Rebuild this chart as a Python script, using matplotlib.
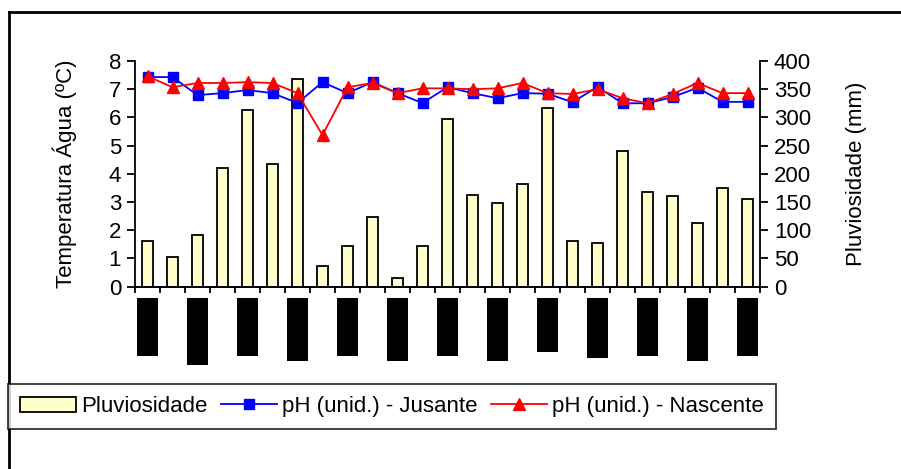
import matplotlib
matplotlib.use("Agg")
import matplotlib.pyplot as plt
import numpy as np
from matplotlib.patches import Rectangle
from matplotlib.lines import Line2D
import matplotlib.transforms as mtransforms

plt.rcParams['font.family'] = ['Liberation Sans', 'DejaVu Sans']

# monthly rainfall (mm) and pH at the two sampling points
pluviosidade = [80, 53, 92, 210, 313, 217, 368, 36, 71, 124, 15, 71, 298,
                163, 149, 181, 316, 81, 78, 241, 167, 160, 113, 174, 156]
ph_jusante = [7.43, 7.43, 6.79, 6.86, 6.97, 6.86, 6.51, 7.25, 6.86, 7.25, 6.86,
              6.51, 7.07, 6.86, 6.68, 6.86, 6.84, 6.54, 7.08, 6.50, 6.50, 6.72,
              7.05, 6.55, 6.55]
ph_nascente = [7.46, 7.07, 7.22, 7.22, 7.25, 7.22, 6.86, 5.37, 7.07, 7.22, 6.86,
               7.03, 7.03, 7.00, 7.03, 7.22, 6.86, 6.83, 7.00, 6.68, 6.50, 6.83,
               7.22, 6.86, 6.86]
# lengths (px) of the hidden, blacked-out date labels under every second month
label_len = [58, 67, 58, 63, 58, 63, 58, 63, 54, 60, 58, 63, 58]

x = np.arange(len(pluviosidade))

fig = plt.figure(figsize=(9.01, 4.69), dpi=100)
ax = fig.add_axes([135 / 901, 1 - 286.5 / 469, 625 / 901, 225.5 / 469])
ax2 = ax.twinx()

ax2.bar(x, pluviosidade, width=0.42, color='#FFFFCC', edgecolor='black',
        linewidth=1.3, label='Pluviosidade')
ax2.set_ylim(0, 400)
ax2.set_yticks(np.arange(0, 401, 50))
ax2.set_ylabel('Pluviosidade (mm)', fontsize=16, labelpad=25)

ax.plot(x, ph_jusante, color='#0000FF', marker='s', markersize=7.5,
        linewidth=1.3, label='pH (unid.) - Jusante')
ax.plot(x, ph_nascente, color='#FF0000', marker='^', markersize=8.5,
        linewidth=1.3, label='pH (unid.) - Nascente')
ax.set_ylim(0, 8)
ax.set_yticks(range(0, 9))
ax.set_ylabel('Temperatura Água (ºC)', fontsize=16, labelpad=23)
ax.set_xlim(-0.5, len(x) - 0.5)
ax.set_xticks(np.arange(-0.5, len(x), 1))
ax.set_xticklabels([])

ax.set_zorder(ax2.get_zorder() + 1)
ax.patch.set_visible(False)

for a in (ax, ax2):
    a.spines['top'].set_visible(False)
    for s in a.spines.values():
        s.set_linewidth(1.3)
    a.tick_params(axis='y', labelsize=16, length=6, width=1.3, pad=4)
ax.tick_params(axis='x', length=4, width=1.3)
ax2.spines['left'].set_visible(False)
ax.spines['right'].set_visible(False)

# blacked-out x labels
trans = mtransforms.blended_transform_factory(ax.transData, ax.transAxes)
ah = 225.5
for i, h in enumerate(label_len):
    ax.add_patch(Rectangle((2 * i - 0.42, -11.5 / ah - h / ah), 0.84, h / ah,
                           transform=trans, facecolor='black', edgecolor='none',
                           clip_on=False))

# outer frame
fig.add_artist(Line2D([9 / 901, 9 / 901], [-0.1, 1 - 12 / 469],
                      transform=fig.transFigure, color='black', linewidth=2))
fig.add_artist(Line2D([9 / 901, 1.1], [1 - 12 / 469, 1 - 12 / 469],
                      transform=fig.transFigure, color='black', linewidth=2))

h1, l1 = ax2.get_legend_handles_labels()
h2, l2 = ax.get_legend_handles_labels()
leg = fig.legend(h1 + h2, l1 + l2, loc='upper left',
                 bbox_to_anchor=(8 / 901, 1 - 384 / 469), borderaxespad=0,
                 ncol=3, fontsize=16, frameon=True, fancybox=False,
                 edgecolor='black', handlelength=2.5, handletextpad=0.25,
                 columnspacing=0.6, borderpad=0.55)
leg.get_frame().set_linewidth(1.3)

fig.savefig('out.png', dpi=100)
